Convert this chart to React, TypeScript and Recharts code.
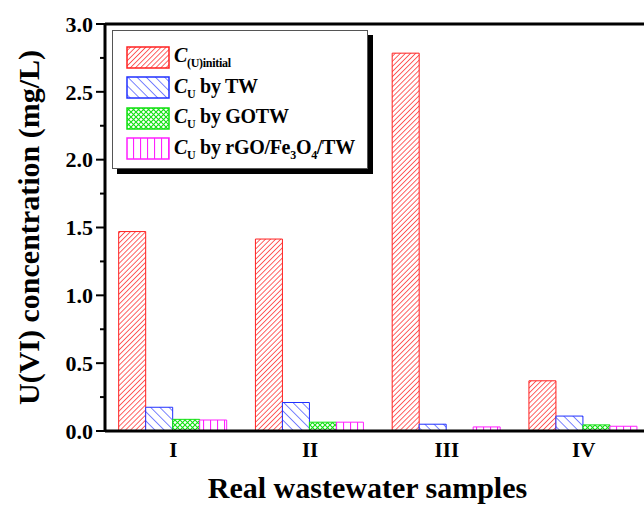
import React from 'react';
import { BarChart, Bar, XAxis, YAxis, Legend, ReferenceLine } from 'recharts';

const categories = ['I', 'II', 'III', 'IV'];
const initialValues = [1.47, 1.415, 2.785, 0.37];
const twValues = [0.175, 0.21, 0.05, 0.11];
const gotwValues = [0.086, 0.065, 0, 0.045];
const rgoValues = [0.081, 0.065, 0.03, 0.035];
const yTicks = [0, 0.25, 0.5, 0.75, 1, 1.25, 1.5, 1.75, 2, 2.25, 2.5, 2.75, 3];

const data = categories.map((name, i) => ({
  name,
  initial: initialValues[i],
  tw: twValues[i],
  gotw: gotwValues[i],
  rgo: rgoValues[i],
}));

const FONT = '"Liberation Serif", "Times New Roman", serif';

// hatch fills, prefix keeps ids unique between chart and legend
const Patterns = ({ p }: { p: string }) => (
  <defs>
    <pattern id={`${p}red`} width="3.6" height="3.6" patternUnits="userSpaceOnUse" patternTransform="rotate(45)">
      <rect width="3.6" height="3.6" fill="#fff" />
      <line x1="0" y1="0" x2="0" y2="3.6" stroke="#ff2020" strokeWidth="1.4" />
    </pattern>
    <pattern id={`${p}blue`} width="6.5" height="6.5" patternUnits="userSpaceOnUse" patternTransform="rotate(-45)">
      <rect width="6.5" height="6.5" fill="#fff" />
      <line x1="0" y1="0" x2="0" y2="6.5" stroke="#2030ff" strokeWidth="1.2" />
    </pattern>
    <pattern id={`${p}green`} width="5" height="5" patternUnits="userSpaceOnUse">
      <rect width="5" height="5" fill="#fff" />
      <path d="M0,0 L5,5 M5,0 L0,5" stroke="#10e010" strokeWidth="1.1" />
    </pattern>
    <pattern id={`${p}mag`} width="7" height="7" patternUnits="userSpaceOnUse">
      <rect width="7" height="7" fill="#fff" />
      <line x1="0.5" y1="0" x2="0.5" y2="7" stroke="#ff20ff" strokeWidth="1.2" />
    </pattern>
  </defs>
);

const YTick = (props: any) => {
  const { x, y, payload } = props;
  const major = Math.abs(payload.value * 2 - Math.round(payload.value * 2)) < 1e-6;
  return (
    <g>
      <line x1={x - (major ? 9 : 5)} x2={x} y1={y} y2={y} stroke="#000" strokeWidth={2} />
      {major && (
        <text x={x - 12} y={y} dy="0.35em" textAnchor="end" fontFamily={FONT} fontWeight="bold" fontSize={22} fill="#000">
          {payload.value.toFixed(1)}
        </text>
      )}
    </g>
  );
};

const legendRows = [
  { key: 'red', color: '#ff2020', sub: '(U)initial', rest: '' },
  { key: 'blue', color: '#2030ff', sub: 'U', rest: ' by TW' },
  { key: 'green', color: '#10e010', sub: 'U', rest: ' by GOTW' },
  { key: 'mag', color: '#ff20ff', sub: 'U', rest: ' by rGO/Fe' },
];

const LegendBox = () => (
  <div
    style={{
      width: 256,
      height: 139,
      border: '1px solid #555',
      boxShadow: '5px 5px 0 #000',
      background: '#fff',
      padding: '11px 0 0 13px',
      boxSizing: 'border-box',
      fontFamily: FONT,
      fontWeight: 'bold',
      color: '#000',
    }}
  >
    {legendRows.map((r) => (
      <div key={r.key} style={{ display: 'flex', alignItems: 'center', height: 30.5 }}>
        <svg width={44} height={23} style={{ flex: 'none' }}>
          <Patterns p={`lg${r.key}`} />
          <rect x={1} y={1} width={42} height={21} fill={`url(#lg${r.key}${r.key})`} stroke={r.color} strokeWidth={1.5} />
        </svg>
        <span style={{ marginLeft: 4, fontSize: 20, letterSpacing: -0.3, whiteSpace: 'nowrap', lineHeight: 1 }}>
          <i>C</i>
          <sub style={{ fontSize: 12 }}>{r.sub}</sub>
          {r.rest}
          {r.key === 'mag' && (
            <>
              <sub style={{ fontSize: 12 }}>3</sub>O<sub style={{ fontSize: 12 }}>4</sub>/TW
            </>
          )}
        </span>
      </div>
    ))}
  </div>
);

export default function App() {
  return (
    <div style={{ position: 'absolute', left: 0, top: 0, width: 644, height: 506, overflow: 'hidden', background: '#fff' }}>
      <BarChart
        width={670}
        height={506}
        data={data}
        margin={{ top: 24, right: 18, left: 0, bottom: 0 }}
        barCategoryGap="10%"
        barGap={0}
      >
        <Patterns p="c" />
        <XAxis
          dataKey="name"
          height={75}
          tickLine={false}
          tickSize={0}
          tickMargin={11}
          axisLine={{ stroke: '#000', strokeWidth: 3 }}
          tick={{ fill: '#000', fontFamily: FONT, fontWeight: 'bold', fontSize: 21 }}
          label={{
            value: 'Real wastewater samples',
            position: 'insideBottom',
            offset: 8,
            dx: -11,
            style: { fill: '#000', fontFamily: FONT, fontWeight: 'bold', fontSize: 30 },
          }}
        />
        <YAxis
          width={105}
          domain={[0, 3]}
          ticks={yTicks}
          interval={0}
          tickLine={false}
          tickSize={0}
          tickMargin={0}
          axisLine={{ stroke: '#000', strokeWidth: 3 }}
          tick={<YTick />}
          label={{
            value: 'U(VI) concentration (mg/L)',
            angle: -90,
            position: 'insideLeft',
            offset: 28,
            style: { textAnchor: 'middle', fill: '#000', fontFamily: FONT, fontWeight: 'bold', fontSize: 30 },
          }}
        />
        <ReferenceLine y={3} stroke="#000" strokeWidth={3} />
        <Legend
          layout="vertical"
          align="center"
          verticalAlign="middle"
          content={() => <LegendBox />}
          wrapperStyle={{ left: 112, top: 30, width: 262, height: 144 }}
        />
        <Bar dataKey="initial" fill="url(#cred)" stroke="#ff2020" strokeWidth={1} isAnimationActive={false} />
        <Bar dataKey="tw" fill="url(#cblue)" stroke="#2030ff" strokeWidth={1} isAnimationActive={false} />
        <Bar dataKey="gotw" fill="url(#cgreen)" stroke="#10e010" strokeWidth={1} isAnimationActive={false} />
        <Bar dataKey="rgo" fill="url(#cmag)" stroke="#ff20ff" strokeWidth={1} isAnimationActive={false} />
      </BarChart>
    </div>
  );
}
